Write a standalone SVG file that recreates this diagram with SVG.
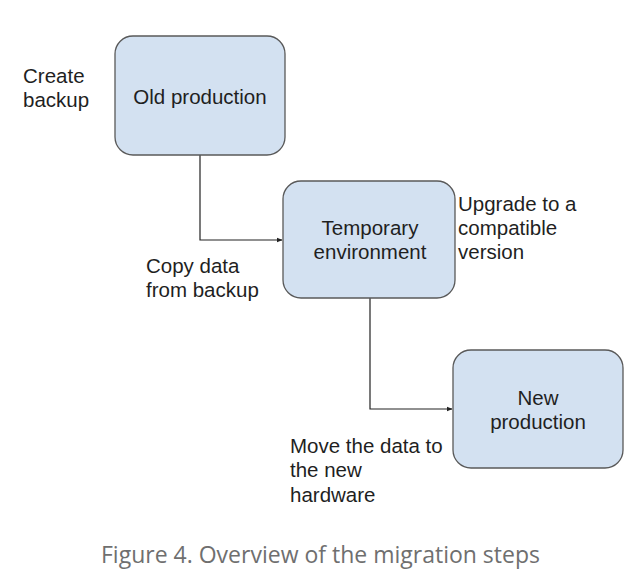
<svg xmlns="http://www.w3.org/2000/svg" width="640" height="587" viewBox="0 0 640 587">
<style>
.node rect{fill:#d3e1f1;stroke:#595959;stroke-width:1.3}
text{font-family:"Liberation Sans",Arial,sans-serif;font-size:20.5px;fill:#1f1f1f}
.c{text-anchor:middle}
.conn path{fill:none;stroke:#222;stroke-width:1.2}
.cap{font-family:"Open Sans",sans-serif;font-size:23px;fill:#6f6f6f}
</style>
<defs>
<marker id="arr" viewBox="0 0 10 10" refX="9" refY="5" markerWidth="6" markerHeight="6" orient="auto" markerUnits="userSpaceOnUse">
<path d="M0,1 L10,5 L0,9 z" fill="#222"/>
</marker>
</defs>
<rect width="640" height="587" fill="#fff"/>
<g class="conn">
<path d="M200,155 V240 H282" marker-end="url(#arr)"/>
<path d="M370,298 V409 H452" marker-end="url(#arr)"/>
</g>
<g id="old" class="node">
<rect x="115" y="36" width="170" height="119" rx="18"/>
<text class="c" x="200" y="104">Old production</text>
</g>
<g id="temp" class="node">
<rect x="283" y="181" width="172" height="117" rx="18"/>
<text class="c" x="370" y="235">Temporary</text>
<text class="c" x="370" y="259">environment</text>
</g>
<g id="new" class="node">
<rect x="453" y="350" width="170" height="118" rx="18"/>
<text class="c" x="538" y="405">New</text>
<text class="c" x="538" y="429">production</text>
</g>
<g id="labels">
<text x="23" y="83">Create</text>
<text x="23" y="107">backup</text>
<text x="458" y="211">Upgrade to a</text>
<text x="458" y="235">compatible</text>
<text x="458" y="259">version</text>
<text x="146" y="273">Copy data</text>
<text x="146" y="297">from backup</text>
<text x="290" y="453">Move the data to</text>
<text x="290" y="477">the new</text>
<text x="290" y="502">hardware</text>
</g>
<text class="cap" x="101" y="563">Figure 4. Overview of the migration steps</text>
</svg>
